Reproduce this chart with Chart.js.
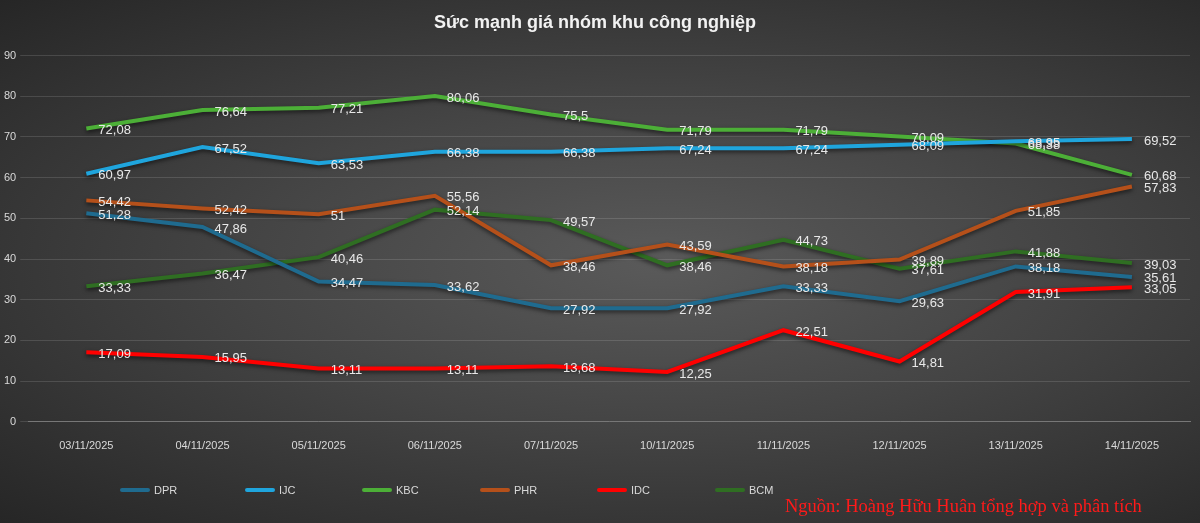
<!DOCTYPE html>
<html><head><meta charset="utf-8">
<script src="https://cdn.jsdelivr.net/npm/chart.js@4"></script>
<style>
html,body{margin:0;padding:0;width:1200px;height:523px;overflow:hidden;background:#2b2b2b}
#wrap{position:relative;width:1200px;height:523px;background:radial-gradient(ellipse at 55% 50%,#5a5a5a 0%,#444 45%,#262626 100%)}
#legend{position:absolute;top:484px;left:0;width:1200px;font:11px "Liberation Sans",sans-serif;color:#d9d9d9}
.li{position:absolute;display:flex;align-items:center}
.li span.l{display:inline-block;width:30px;height:4px;margin-right:4px;border-radius:2px}
#src{position:absolute;left:785px;top:496px;font:18.5px "Liberation Serif",serif;color:#ff1a1a}
</style></head><body>
<div id="wrap"><canvas id="c" width="1200" height="523"></canvas><div id="legend"></div><div id="src">Nguồn: Hoàng Hữu Huân tổng hợp và phân tích</div></div>
<script>
const categories=["03/11/2025","04/11/2025","05/11/2025","06/11/2025","07/11/2025","10/11/2025","11/11/2025","12/11/2025","13/11/2025","14/11/2025"];
const DPR=[51.28,47.86,34.47,33.62,27.92,27.92,33.33,29.63,38.18,35.61];
const IJC=[60.97,67.52,63.53,66.38,66.38,67.24,67.24,68.09,68.95,69.52];
const KBC=[72.08,76.64,77.21,80.06,75.5,71.79,71.79,70.09,68.38,60.68];
const PHR=[54.42,52.42,51,55.56,38.46,43.59,38.18,39.89,51.85,57.83];
const IDC=[17.09,15.95,13.11,13.11,13.68,12.25,22.51,14.81,31.91,33.05];
const BCM=[33.33,36.47,40.46,52.14,49.57,38.46,44.73,37.61,41.88,39.03];
const seriesNames=["DPR","IJC","KBC","PHR","IDC","BCM"];
const seriesData=[DPR,IJC,KBC,PHR,IDC,BCM];
const colors=["#1f6b8f","#1fa5dd","#4caf37","#b5501a","#ff0000","#2f6e22"];
const legendX=[120,245,362,480,597,715];

const labelPlugin={id:'lbl',afterDatasetsDraw(chart){
  const ctx=chart.ctx;ctx.save();
  ctx.font='13px "Liberation Sans Narrow","Liberation Sans",sans-serif';
  ctx.fillStyle='#e8e8e8';ctx.textBaseline='middle';ctx.textAlign='left';
  chart.data.datasets.forEach((ds,i)=>{
    chart.getDatasetMeta(i).data.forEach((p,j)=>{
      ctx.fillText(String(ds.data[j]).replace('.',','),p.x+12,p.y+2);
    });
  });
  ctx.restore();
}};
const shadowPlugin={id:'sh',beforeDatasetDraw(chart){chart.ctx.save();chart.ctx.shadowColor='rgba(0,0,0,0.6)';chart.ctx.shadowBlur=4;chart.ctx.shadowOffsetY=2;},afterDatasetDraw(chart){chart.ctx.restore();}};

new Chart(document.getElementById('c'),{
  type:'line',
  data:{labels:categories,datasets:seriesNames.map((n,i)=>({label:n,data:seriesData[i],borderColor:colors[i],backgroundColor:colors[i],borderWidth:4,pointRadius:0,tension:0,fill:false}))},
  options:{responsive:false,animation:false,
    layout:{padding:{top:6,right:10,left:0,bottom:60}},
    plugins:{legend:{display:false},tooltip:{enabled:false},
      title:{display:true,text:'Sức mạnh giá nhóm khu công nghiệp',color:'#f2f2f2',font:{size:18,weight:'bold',family:'"Liberation Sans",sans-serif'},padding:{top:6,bottom:22}}},
    scales:{
      x:{offset:true,grid:{display:false},border:{color:'#777'},ticks:{color:'#d9d9d9',font:{size:11,family:'"Liberation Sans",sans-serif'},maxRotation:0,padding:10}},
      y:{min:0,max:90,ticks:{stepSize:10,color:'#d9d9d9',font:{size:11,family:'"Liberation Sans",sans-serif'},padding:4},grid:{color:'rgba(255,255,255,0.13)'},border:{display:false}}
    }},
  plugins:[shadowPlugin,labelPlugin]
});
const lg=document.getElementById('legend');
seriesNames.forEach((n,i)=>{const d=document.createElement('div');d.className='li';d.style.left=legendX[i]+'px';d.innerHTML='<span class="l" style="background:'+colors[i]+'"></span>'+n;lg.appendChild(d);});
</script></body></html>
